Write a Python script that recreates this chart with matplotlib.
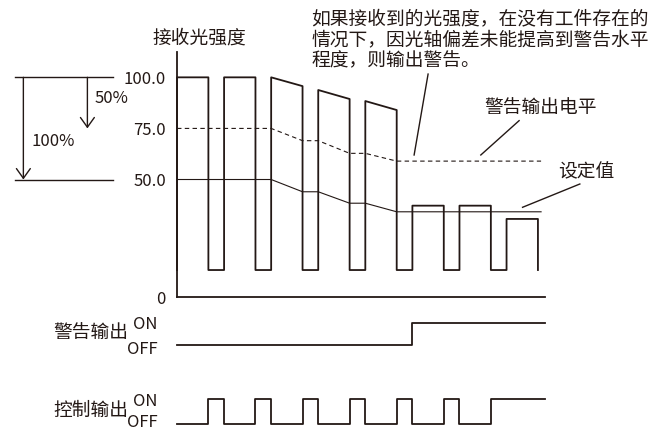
import numpy as np
import matplotlib.pyplot as plt

plt.rcParams['font.family'] = ['Noto Sans CJK SC', 'DejaVu Sans']

INK = '#231815'

# =============================
# Data (light intensity in %, time in pulse units)
# =============================
PULSE_RISE = [0, 3, 6, 9, 12, 15, 18, 21]
PULSE_FALL = [2, 5, 8, 11, 14, 17, 20, 23]
PULSE_TOP_START = [100.0, 100.0, 100.0, 93.8, 88.4, 37.2, 37.2, 30.7]
PULSE_TOP_END = [100.0, 100.0, 95.7, 89.4, 84.0, 37.2, 37.2, 30.7]
LOW_LEVEL = 5.7

LEVEL_T = [0, 6, 8, 9, 11, 12, 14, 23.2]
WARN_LEVEL = [75.0, 75.0, 69.0, 69.0, 62.8, 62.8, 59.0, 59.0]
SET_LEVEL = [50.0, 50.0, 44.0, 44.0, 38.4, 38.4, 34.2, 34.2]

Y_TICKS = [100.0, 75.0, 50.0]
Y_TICK_LABELS = ['100.0', '75.0', '50.0']
AXIS_ZERO = -7.5     # broken axis: bottom line is labelled "0"
Y_TOP = 112.4
T_END = 23.45

NOTE = '如果接收到的光强度，在没有工件存在的\n情况下，因光轴偏差未能提高到警告水平\n程度，则输出警告。'

# =============================
# Derived signals
# =============================
t_sig, v_sig = [0], [LOW_LEVEL]
for r, f, a, b in zip(PULSE_RISE, PULSE_FALL, PULSE_TOP_START, PULSE_TOP_END):
    t_sig += [r, r, f, f]
    v_sig += [LOW_LEVEL, a, b, LOW_LEVEL]

ctrl_t, ctrl_s = [0], [0]
for r, f, a in zip(PULSE_RISE, PULSE_FALL, PULSE_TOP_START):
    ctrl_t += [r, f]
    ctrl_s += [int(a < np.interp(r, LEVEL_T, SET_LEVEL)), 1]
ctrl_t = ctrl_t[1:] + [T_END]
ctrl_s = ctrl_s[1:] + [ctrl_s[-1]]
ctrl_t[0] = 0

warn_on = next(r for r, a in zip(PULSE_RISE, PULSE_TOP_START)
               if a < np.interp(r, LEVEL_T, WARN_LEVEL))
warn_t = [0, warn_on, T_END]
warn_s = [0, 1, 1]

# =============================
# Figure
# =============================
W, H = 657, 430
fig = plt.figure(figsize=(W / 100, H / 100), dpi=100)

x0, x1 = 177, 545
ax = fig.add_axes([x0 / W, (H - 297) / H, (x1 - x0) / W, (297 - 52) / H])
ax.set_xlim(0, T_END)
ax.set_ylim(AXIS_ZERO, Y_TOP)
for s in ['top', 'right']:
    ax.spines[s].set_visible(False)
for s in ['left', 'bottom']:
    ax.spines[s].set_color(INK)
    ax.spines[s].set_linewidth(1.3)
ax.set_xticks([])
ax.set_yticks(Y_TICKS + [AXIS_ZERO])
ax.set_yticklabels(Y_TICK_LABELS + ['0'])
ax.tick_params(axis='y', length=0, pad=8, labelsize=12, labelcolor=INK)

ax.plot(LEVEL_T, WARN_LEVEL, color=INK, lw=0.8, ls=(0, (4, 3)))
ax.plot(LEVEL_T, SET_LEVEL, color=INK, lw=0.8)
ax.plot(t_sig, v_sig, color=INK, lw=1.3, clip_on=False)

ax.text(1.4, 119.1, '接收光强度', ha='center', va='center', fontsize=13.5, color=INK)

# margin arrows on the left
for v in [100, 50]:
    ax.plot([-10.32, -4.10], [v, v], color=INK, lw=1.0, clip_on=False)
arrow = dict(arrowstyle='->, head_length=0.7, head_width=0.5', color=INK, lw=1.0,
             shrinkA=0, shrinkB=0)
ax.annotate('', xy=(-9.79, 50), xytext=(-9.79, 100), arrowprops=arrow, annotation_clip=False)
ax.annotate('', xy=(-5.71, 75), xytext=(-5.71, 100), arrowprops=arrow, annotation_clip=False)
ax.text(-5.27, 89.4, '50%', ha='left', va='center', fontsize=12, color=INK)
ax.text(-9.25, 68.5, '100%', ha='left', va='center', fontsize=12, color=INK)

# callouts
ax.text(8.57, 118.6, NOTE, ha='left', va='center', fontsize=13.5, color=INK,
        linespacing=1.0)
ax.plot([16.0, 15.11], [101.6, 62.0], color=INK, lw=1.0, clip_on=False)
ax.text(23.15, 84.8, '警告输出电平', ha='center', va='center', fontsize=13.5, color=INK)
ax.plot([21.8, 19.36], [78.8, 62.0], color=INK, lw=1.0, clip_on=False)
ax.text(26.1, 53.8, '设定值', ha='center', va='center', fontsize=13.5, color=INK)
ax.plot([25.67, 22.02], [47.8, 36.4], color=INK, lw=1.0, clip_on=False)

# =============================
# Output signals
# =============================
def signal_axes(off_px, on_px, t, s, name, off_label_y=0):
    a = fig.add_axes([x0 / W, (H - off_px) / H, (x1 - x0) / W, (off_px - on_px) / H],
                     sharex=ax)
    a.set_ylim(0, 1)
    for sp in a.spines.values():
        sp.set_visible(False)
    a.tick_params(axis='x', bottom=False, labelbottom=False)
    a.set_yticks([1, off_label_y])
    a.set_yticklabels(['ON', 'OFF'])
    a.tick_params(axis='y', length=0, pad=14, labelsize=12, labelcolor=INK)
    a.plot(t, s, drawstyle='steps-post', color=INK, lw=1.3, clip_on=False)
    a.text(-3.1, 0.55, name, ha='right', va='center', fontsize=13.5, color=INK)
    a.patch.set_visible(False)
    return a

signal_axes(347.3, 322.7, warn_t, warn_s, '警告输出', off_label_y=-0.08)
signal_axes(424.3, 399.0, ctrl_t, ctrl_s, '控制输出', off_label_y=0.14)

fig.savefig('out.png', dpi=100)
